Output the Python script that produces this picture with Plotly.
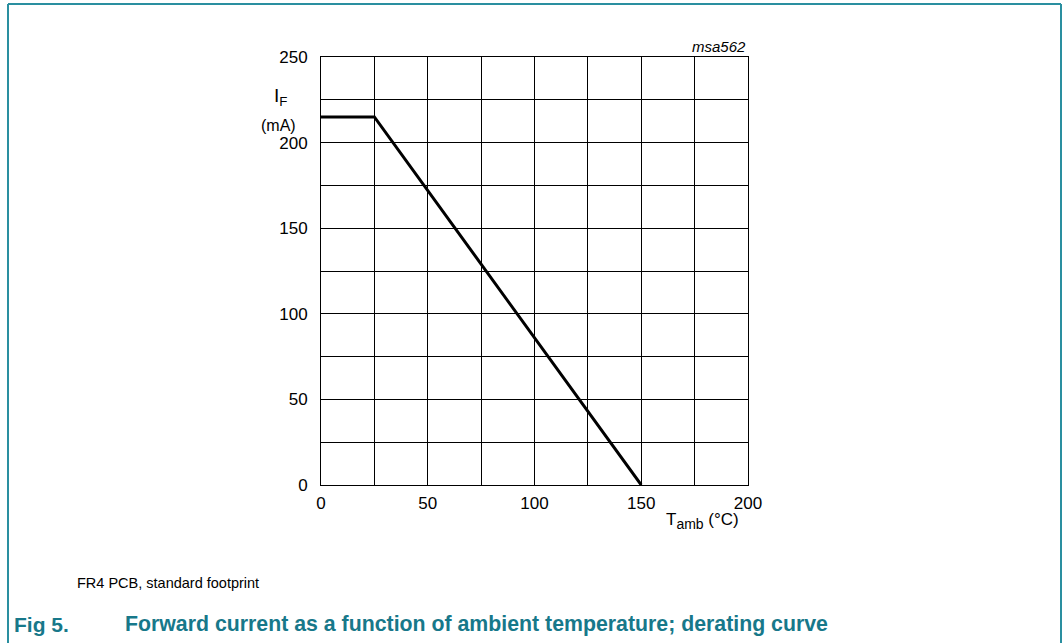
import plotly.graph_objects as go

# Data: derating curve
t_amb = [0, 25, 150]          # °C
i_f = [215, 215, 0]           # mA

x_ticks = [0, 50, 100, 150, 200]
y_ticks = [0, 50, 100, 150, 200, 250]

FONT = "Liberation Sans, Arial, sans-serif"
TEAL = "#17788a"

W, H = 1063, 643
PL, PR, PT, PB = 321, 748, 57, 485

fig = go.Figure()
fig.add_trace(go.Scatter(x=t_amb, y=i_f, mode="lines",
                         line=dict(color="black", width=3),
                         showlegend=False, hoverinfo="skip"))

fig.update_layout(
    width=W, height=H,
    margin=dict(l=PL, r=W - PR, t=PT, b=H - PB, pad=0),
    paper_bgcolor="white", plot_bgcolor="white",
    font=dict(family=FONT, size=17, color="black"),
    xaxis=dict(range=[0, 200], tickvals=x_ticks, ticks="", showgrid=True,
               gridcolor="black", gridwidth=1, zeroline=False,
               showline=True, linecolor="black", linewidth=1, mirror=True,
               minor=dict(dtick=25, showgrid=True, gridcolor="black", gridwidth=1),
               tickfont=dict(size=17), ticklabelstandoff=3),
    yaxis=dict(range=[0, 250], tickvals=y_ticks, ticks="", showgrid=True,
               gridcolor="black", gridwidth=1, zeroline=False,
               showline=True, linecolor="black", linewidth=1, mirror=True,
               minor=dict(dtick=25, showgrid=True, gridcolor="black", gridwidth=1),
               tickfont=dict(size=17), ticklabelstandoff=9),
)


def px(x, y):
    return ((x - PL) / (PR - PL), (PB - y) / (PB - PT))


def text(x, y, s, size, anchor="left", color="black"):
    xx, yy = px(x, y)
    return dict(x=xx, y=yy, xref="paper", yref="paper", text=s, showarrow=False,
                xanchor=anchor, yanchor="middle",
                font=dict(family=FONT, size=size, color=color))


ann = [
    text(280, 97, "I<sub>F</sub>", 19, "center"),
    text(278, 125, "(mA)", 16, "center"),
    text(702, 521, "T<sub><span style='font-size:14px'>amb</span></sub> (°C)", 17, "center"),
    text(748, 47, "<i>msa562</i>", 15, "right"),
    text(75, 583, "FR4 PCB, standard footprint", 14.5, "left"),
    text(12, 624, "<b>Fig 5.</b>", 21, "left", TEAL),
    text(123, 624, "<b>Forward current as a function of ambient temperature; derating curve</b>",
         21.3, "left", TEAL),
]
fig.layout.annotations = ann


def shp(x0, y0, x1, y1):
    a0, b0 = px(x0, y0)
    a1, b1 = px(x1, y1)
    return dict(type="line", xref="paper", yref="paper", x0=a0, y0=b0, x1=a1, y1=b1,
                line=dict(color="#2a8fa0", width=2))


fig.update_layout(shapes=[shp(8, 4, 8, 643), shp(8, 4, 1061, 4), shp(1061, 4, 1061, 643)])

fig.write_html("out.html", config={"displayModeBar": False},
               post_script="document.body.style.margin='0';")
